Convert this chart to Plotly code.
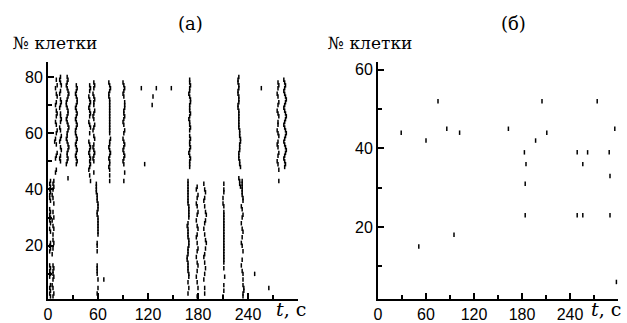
import plotly.graph_objects as go

# ---------------- Panel (a): spike raster, cells 1..80 ----------------
# upper population (cells 41-80)
a_c1_t = [10, 11, 9, 10, 11, 10, 9, 10, 11, 10, 9, 10, 11, 10, 9, 8, 10, 11, 10, 9, 10, 9, 7]
a_c1_c = [79, 77, 76, 74, 73, 71, 70, 68, 67, 66, 64, 63, 61, 60, 58, 57, 56, 53, 52, 51, 47, 46, 43]
a_c2_t = [15, 14, 15, 16, 15, 14, 15, 16, 15, 14, 15, 15, 16, 15, 14, 15, 16, 15, 14, 15, 16, 15, 14, 15]
a_c2_c = [80, 79, 78, 77, 75, 74, 72, 71, 70, 69, 67, 66, 65, 64, 62, 61, 59, 58, 57, 55, 54, 52, 51, 50]
a_c3_t = [23, 24, 23, 22, 23, 24, 25, 24, 23, 22, 22, 23, 24, 24, 23, 22, 23, 24, 25, 24, 23, 23, 22, 23, 24, 25, 24, 23, 23, 24, 23, 22, 24]
a_c3_c = [80, 79, 78, 77, 76, 75, 74, 73, 72, 71, 70, 69, 68, 67, 66, 65, 64, 63, 62, 61, 60, 59, 58, 57, 56, 55, 54, 53, 52, 51, 50, 49, 44]
a_c4_t = [34, 35, 34, 33, 34, 35, 35, 34, 33, 34, 35, 34, 33, 34, 35, 34, 33, 33, 34, 35, 34, 33, 34, 35, 34, 33, 34, 35, 34]
a_c4_c = [77, 76, 75, 74, 73, 72, 71, 70, 69, 68, 67, 66, 65, 64, 63, 62, 61, 60, 59, 58, 57, 56, 55, 54, 53, 52, 51, 50, 49]
a_c5_t = [50, 51, 50, 49, 50, 51, 50, 49, 50, 51, 50, 49, 50, 51, 50, 49, 50, 51, 50, 49, 50, 51, 50, 51, 50, 49, 50, 51]
a_c5_c = [77, 76, 75, 73, 72, 71, 70, 69, 68, 67, 66, 64, 63, 62, 60, 57, 56, 55, 54, 53, 52, 51, 50, 49, 48, 47, 45, 43]
a_c6_t = [55, 56, 55, 54, 55, 56, 55, 55, 56, 55, 54, 55, 56, 55, 54, 55, 56, 55, 54, 55, 56, 55, 54, 55, 55]
a_c6_c = [78, 77, 76, 74, 73, 72, 71, 70, 68, 67, 66, 65, 63, 62, 61, 59, 58, 56, 55, 54, 53, 52, 51, 50, 46]
a_c7_t = [73, 74, 75, 74, 73, 73, 74, 74, 74, 74, 74, 74, 74, 74, 74, 74, 74, 74, 74, 75, 74, 74, 73, 74, 75, 74, 73, 74, 74, 73, 74, 74, 74]
a_c7_c = [78, 77, 76, 75, 74, 73, 72, 71, 70, 69, 68, 67, 66, 65, 64, 63, 62, 61, 60, 58, 57, 56, 55, 54, 53, 52, 51, 50, 49, 48, 47, 45, 43]
a_c8_t = [90, 91, 92, 91, 90, 91, 92, 92, 92, 91, 91, 92, 91, 90, 91, 92, 91, 90, 91, 92, 91, 90, 91, 92, 91, 90, 91, 92, 91]
a_c8_c = [78, 77, 76, 75, 74, 73, 71, 70, 69, 68, 67, 66, 65, 64, 63, 61, 60, 58, 57, 56, 55, 54, 53, 52, 51, 50, 49, 46, 43]
a_c9_t = [170, 170, 171, 170, 170, 169, 170, 171, 171, 170, 170, 170, 171, 170, 169, 170, 170, 171, 170, 170, 171, 170, 170, 171, 170, 169, 170, 171, 170, 170, 170]
a_c9_c = [79, 78, 77, 76, 75, 74, 73, 72, 71, 70, 69, 68, 67, 66, 65, 64, 63, 62, 61, 59, 58, 57, 56, 55, 54, 53, 52, 51, 50, 49, 48]
a_c10_t = [229, 228, 228, 229, 229, 228, 228, 229, 229, 229, 228, 228, 229, 229, 229, 229, 229, 229, 229, 230, 230, 230, 231, 231, 230, 230, 230, 229, 229, 229, 230, 230, 231, 229, 230, 230, 231]
a_c10_c = [80, 79, 78, 77, 76, 75, 74, 73, 72, 71, 70, 69, 68, 67, 66, 65, 64, 63, 62, 61, 60, 59, 58, 57, 56, 55, 54, 53, 52, 51, 50, 49, 48, 44, 43, 42, 41]
a_c11_t = [276, 277, 276, 275, 276, 277, 276, 275, 276, 277, 276, 276, 275, 276, 277, 276, 275, 276, 277, 276, 275, 276, 277, 277]
a_c11_c = [78, 77, 76, 74, 73, 71, 70, 68, 67, 66, 64, 63, 61, 60, 59, 57, 56, 55, 53, 52, 50, 49, 47, 43]
a_c12_t = [283, 284, 285, 284, 283, 284, 285, 286, 285, 284, 283, 284, 285, 286, 285, 284, 283, 284, 285, 286, 285, 284, 283, 284, 285, 286, 285, 284, 283, 284, 285, 284]
a_c12_c = [79, 78, 77, 76, 75, 74, 73, 72, 71, 70, 69, 68, 67, 66, 65, 64, 63, 62, 61, 60, 59, 58, 57, 56, 55, 54, 53, 52, 51, 50, 49, 48]
a_dots_t = [112, 130, 148, 126, 125, 116, 256]
a_dots_c = [76, 76, 76, 73, 70, 49, 76]

# lower population (cells 1-40)
a_l1_t = [3, 2, 3, 2, 3, 2, 2, 3, 2, 3, 2, 3, 2, 3, 2, 3, 3, 2, 3, 2, 2, 3, 2, 3, 2, 3, 2, 3, 2, 3]
a_l1_c = [43, 42, 41, 40, 39, 38, 37, 36, 33, 32, 31, 30, 29, 28, 26, 25, 21, 20, 19, 18, 13, 12, 11, 10, 9, 6, 5, 4, 3, 2]
a_l2_t = [6, 7, 6, 5, 6, 7, 6, 7, 5, 6, 7, 6, 6, 7, 6, 5, 6, 7, 6, 6, 7, 6, 5, 6, 7, 6]
a_l2_c = [42, 41, 40, 38, 37, 35, 32, 30, 29, 27, 26, 24, 22, 21, 19, 17, 13, 12, 11, 10, 9, 8, 6, 5, 3, 2]
a_l3_t = [58, 58, 58, 58, 59, 59, 59, 60, 60, 60, 59, 59, 60, 60, 60, 60, 60, 60, 60, 59, 59, 59, 59, 59, 59, 59, 60, 60, 59, 60, 60]
a_l3_c = [42, 41, 40, 39, 38, 37, 36, 35, 34, 33, 32, 31, 30, 29, 28, 27, 26, 25, 24, 21, 20, 18, 13, 12, 11, 10, 8, 5, 3, 2, 1]
a_l4_t = [168, 168, 168, 168, 168, 168, 168, 168, 168, 169, 169, 169, 169, 169, 168, 167, 168, 168, 168, 168, 169, 169, 169, 168, 168, 168, 167, 167, 168, 168, 168, 168, 169, 169, 168, 169, 168, 169]
a_l4_c = [43, 42, 41, 40, 39, 38, 37, 36, 35, 34, 33, 32, 31, 30, 28, 27, 26, 25, 24, 23, 22, 21, 20, 19, 18, 17, 16, 15, 14, 13, 12, 11, 10, 9, 7, 5, 3, 1]
a_l5_t = [179, 178, 180, 179, 178, 179, 180, 179, 178, 179, 180, 179, 178, 179, 180, 179, 178, 179, 180, 179, 178, 179, 180, 179]
a_l5_c = [41, 40, 38, 37, 35, 34, 32, 31, 29, 27, 26, 24, 23, 21, 19, 18, 16, 14, 13, 11, 9, 7, 5, 2]
a_l6_t = [187, 188, 189, 188, 187, 188, 189, 190, 189, 188, 187, 188, 189, 190, 189, 188, 187, 188, 189, 188, 187, 188, 188]
a_l6_c = [42, 40, 39, 37, 36, 34, 32, 31, 29, 28, 26, 24, 22, 21, 19, 17, 16, 14, 12, 10, 8, 5, 3]
a_l7_t = [211, 211, 211, 210, 210, 211, 211, 211, 211, 211, 211, 211, 211, 211, 211, 211, 211, 211, 211, 211, 211, 211, 211, 211, 211, 211, 212, 211, 211, 210]
a_l7_c = [42, 40, 39, 37, 35, 34, 32, 31, 30, 29, 28, 27, 26, 25, 24, 23, 22, 21, 20, 19, 18, 17, 16, 15, 14, 12, 9, 6, 4, 2]
a_l8_t = [233, 233, 233, 233, 233, 233, 234, 234, 232, 233, 234, 233, 232, 233, 234, 233, 232, 233, 234, 233, 232, 233, 234, 234, 234, 235, 235, 234, 234]
a_l8_c = [43, 42, 41, 40, 39, 38, 37, 36, 34, 33, 31, 30, 28, 26, 25, 23, 21, 20, 18, 15, 13, 11, 10, 8, 6, 5, 4, 3, 2]
a_ldots_t = [67, 248, 265]
a_ldots_c = [8, 10, 5]

# ---------------- Panel (b): sparse spikes, cells 1..60 ----------------
b_t = [29, 60, 75, 86, 102, 163, 197, 205, 211, 274, 296, 183, 249, 262, 289, 185, 256, 184, 290, 184, 249, 256, 290, 51, 95, 298]
b_c = [44, 42, 52, 45, 44, 45, 42, 52, 44, 52, 45, 39, 39, 39, 39, 36, 36, 31, 33, 23, 23, 23, 23, 15, 18, 6]

x_ticks = [0, 60, 120, 180, 240]
x_minor = [30, 90, 150, 210, 270, 300]
ya_ticks = [20, 40, 60, 80]
ya_minor = [10, 30, 50, 70]
yb_ticks = [20, 40, 60]
yb_minor = [10, 30, 50]

a_t = (a_c1_t + a_c2_t + a_c3_t + a_c4_t + a_c5_t + a_c6_t + a_c7_t + a_c8_t + a_c9_t + a_c10_t
       + a_c11_t + a_c12_t + a_dots_t + a_l1_t + a_l2_t + a_l3_t + a_l4_t + a_l5_t + a_l6_t
       + a_l7_t + a_l8_t + a_ldots_t)
a_c = (a_c1_c + a_c2_c + a_c3_c + a_c4_c + a_c5_c + a_c6_c + a_c7_c + a_c8_c + a_c9_c + a_c10_c
       + a_c11_c + a_c12_c + a_dots_c + a_l1_c + a_l2_c + a_l3_c + a_l4_c + a_l5_c + a_l6_c
       + a_l7_c + a_l8_c + a_ldots_c)

W, H = 627, 323
mk = dict(symbol="line-ns", size=3.2, color="black", line=dict(color="black", width=1.5))

fig = go.Figure()
fig.add_trace(go.Scatter(x=a_t, y=a_c, mode="markers", marker=mk, xaxis="x", yaxis="y",
                         showlegend=False, hoverinfo="skip", cliponaxis=False))
fig.add_trace(go.Scatter(x=b_t, y=b_c, mode="markers", marker=mk, xaxis="x2", yaxis="y2",
                         showlegend=False, hoverinfo="skip", cliponaxis=False))

tickfont = dict(family="Liberation Sans Narrow, Liberation Sans, Arial", size=16, color="black")
serif = "DejaVu Serif"


def xax(domain, anchor):
    return dict(domain=domain, anchor=anchor, range=[0, 300], showline=True, linecolor="black",
                linewidth=2, ticks="inside", ticklen=6, tickwidth=1.5, tickcolor="black",
                tickvals=x_ticks, ticktext=[str(v) for v in x_ticks], automargin=False,
                minor=dict(ticks="inside", ticklen=4, tickwidth=1.5, tickcolor="black",
                           tickvals=x_minor, showgrid=False),
                showgrid=False, zeroline=False, tickfont=tickfont, fixedrange=True)


def yax(domain, anchor, rng, tv, tm):
    return dict(domain=domain, anchor=anchor, range=rng, showline=True, linecolor="black",
                linewidth=2, ticks="inside", ticklen=6, tickwidth=1.5, tickcolor="black",
                tickvals=tv, ticktext=[str(v) for v in tv], automargin=False,
                minor=dict(ticks="inside", ticklen=4, tickwidth=1.5, tickcolor="black",
                           tickvals=tm, showgrid=False),
                showgrid=False, zeroline=False, tickfont=tickfont, fixedrange=True)


ydom = [1 - 299 / H, 1 - 62 / H]
fig.update_layout(
    width=W, height=H, margin=dict(l=0, r=0, t=0, b=0, autoexpand=False),
    paper_bgcolor="white", plot_bgcolor="white",
    xaxis=xax([48 / W, 298 / W], "y"),
    yaxis=yax(ydom, "x", [1.07, 85.3], ya_ticks, ya_minor),
    xaxis2=xax([378 / W, 618 / W], "y2"),
    yaxis2=yax(ydom, "x2", [1.66, 62.0], yb_ticks, yb_minor),
)

ann = [
    dict(text="(а)", x=190 / W, y=1 - 24 / H, size=18),
    dict(text="(б)", x=513 / W, y=1 - 24 / H, size=18),
    dict(text="№ клетки", x=11 / W, y=1 - 43 / H, xanchor="left", size=17),
    dict(text="№ клетки", x=326 / W, y=1 - 43 / H, xanchor="left", size=17),
    dict(text="<i>t</i>, с", x=291 / W, y=1 - 309 / H, size=19),
    dict(text="<i>t</i>, с", x=606 / W, y=1 - 309 / H, size=19),
]
for a in ann:
    a.setdefault("xanchor", "center")
    sz = a.pop("size")
    fig.add_annotation(xref="paper", yref="paper", showarrow=False, yanchor="middle",
                       font=dict(family=serif, size=sz, color="black"), **a)

fig.write_html("out.html", config={"displayModeBar": False},
               post_script="document.body.style.margin='0';document.body.style.overflow='hidden';")
